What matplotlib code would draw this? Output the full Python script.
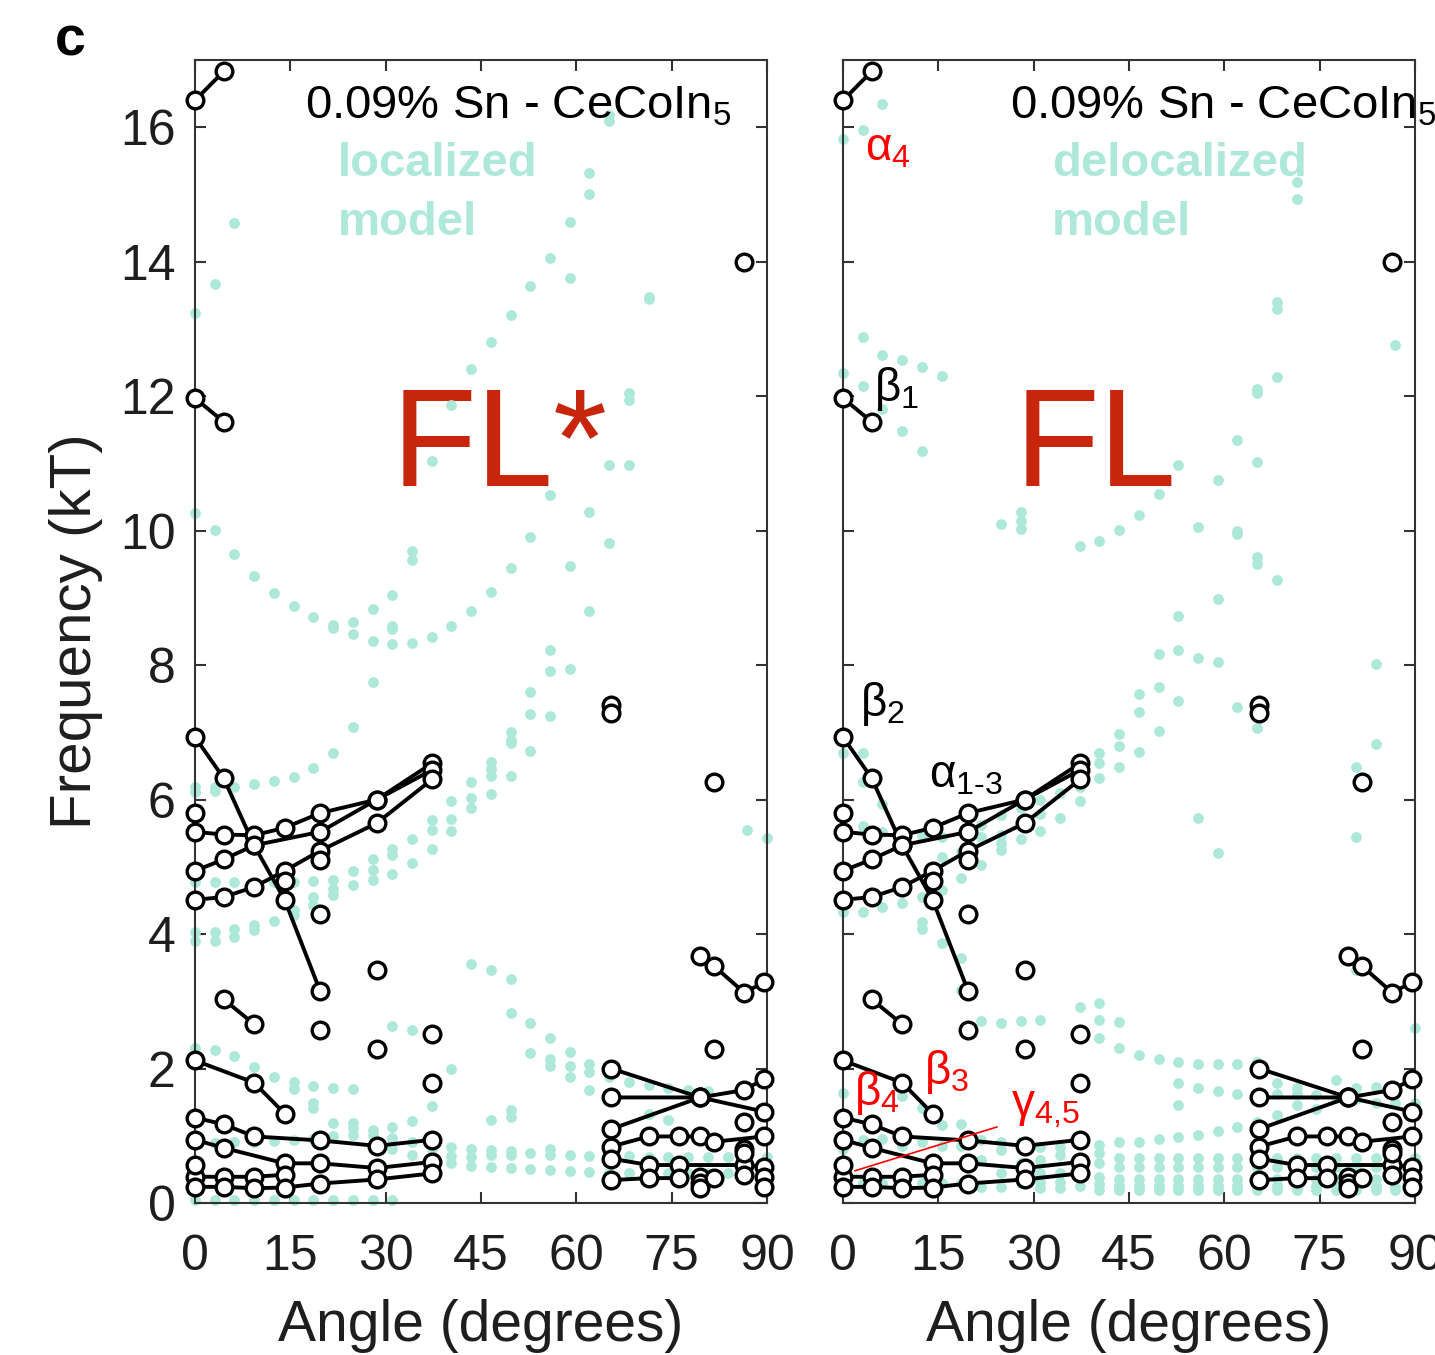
import matplotlib
matplotlib.use('Agg')
import matplotlib.pyplot as plt

plt.rcParams['font.family'] = ['Liberation Sans', 'DejaVu Sans']
plt.rcParams['mathtext.fontset'] = 'custom'
plt.rcParams['mathtext.rm'] = 'Liberation Sans'
plt.rcParams['mathtext.it'] = 'Liberation Sans:italic'
plt.rcParams['mathtext.bf'] = 'Liberation Sans:bold'

CYAN = '#ADE8D9'
FLRED = '#C8260C'
TXT = '#1e1e1e'

# ---------------- calculated (model) angles ----------------
CALC_ANGLES = [0.00, 3.10, 6.21, 9.31, 12.41, 15.52, 18.62, 21.72, 24.83, 27.93,
               31.03, 34.14, 37.24, 40.34, 43.45, 46.55, 49.66, 52.76, 55.86, 58.97,
               62.07, 65.17, 68.28, 71.38, 74.48, 77.59, 80.69, 83.79, 86.90, 90.00]

# localized model frequencies (kT) per calculated angle
loc_freqs = [
    [13.23, 10.26, 6.19, 6.12, 4.78, 4.03, 3.89, 2.30, 0.88, 0.05],
    [13.67, 10.01, 6.18, 6.13, 4.78, 4.03, 3.90, 2.28, 0.89, 0.05],
    [14.57, 9.65, 6.19, 4.78, 4.08, 3.96, 2.18, 0.90, 0.05],
    [9.33, 6.23, 4.13, 4.06, 2.02, 0.91, 0.05],
    [9.08, 6.27, 4.78, 4.19, 1.88, 0.92, 0.05],
    [8.88, 6.34, 4.78, 4.36, 4.29, 1.80, 1.69, 0.94, 0.05],
    [8.71, 6.47, 4.79, 4.55, 4.43, 1.74, 1.48, 1.41, 0.95, 0.05],
    [8.60, 8.55, 6.70, 4.81, 4.67, 4.58, 1.71, 1.19, 0.99, 0.05],
    [8.64, 8.46, 7.08, 4.94, 4.73, 1.69, 1.19, 1.11, 1.01, 0.05],
    [8.83, 8.36, 7.75, 5.11, 4.96, 4.80, 1.09, 1.01, 0.05],
    [9.05, 8.58, 8.53, 8.31, 5.26, 5.17, 4.90, 2.63, 1.13, 0.96, 0.81, 0.05],
    [9.70, 9.57, 8.33, 5.42, 5.06, 2.58, 1.22, 0.91, 0.71],
    [11.03, 8.42, 5.69, 5.55, 5.26, 1.44, 0.80, 0.60],
    [11.87, 8.58, 5.98, 5.71, 5.53, 1.99, 0.84, 0.70, 0.59],
    [12.40, 8.80, 6.26, 6.03, 5.88, 3.55, 0.81, 0.69, 0.55],
    [12.81, 9.09, 6.56, 6.46, 6.35, 6.08, 3.46, 1.23, 0.79, 0.71, 0.54],
    [13.20, 9.45, 7.01, 6.88, 6.84, 6.35, 3.33, 2.83, 1.38, 1.28, 0.78, 0.72, 0.52],
    [13.64, 9.90, 7.60, 7.28, 6.73, 2.67, 2.23, 0.75, 0.50],
    [14.06, 10.53, 8.22, 7.91, 7.25, 2.46, 2.14, 2.04, 0.81, 0.71, 0.49],
    [14.59, 13.76, 9.48, 7.94, 2.25, 2.04, 1.87, 0.71, 0.47],
    [15.32, 15.00, 10.28, 8.81, 2.07, 1.95, 1.68, 0.70, 0.46],
    [16.18, 16.10, 10.98, 9.82, 1.87, 0.69, 0.45],
    [12.04, 11.94, 10.98, 1.80, 0.70, 0.45],
    [13.48, 13.45, 1.75, 1.33, 0.69, 0.45],
    [1.71, 1.24, 0.69, 0.44],
    [1.68, 0.69, 0.44],
    [1.66, 0.69, 0.44],
    [0.69, 0.44],
    [5.55, 0.69, 0.44],
    [5.43, 0.69, 0.44],
]

# delocalized model frequencies (kT) per calculated angle
deloc_freqs = [
    [15.83, 12.34, 6.69, 4.33, 1.64, 0.80, 0.30],
    [15.96, 12.88, 12.15, 6.70, 6.26, 5.61, 4.33, 0.94, 0.30],
    [16.35, 12.61, 11.81, 5.93, 5.52, 4.40, 0.95, 0.30],
    [12.54, 11.48, 4.46, 1.59, 0.85, 0.30],
    [12.44, 11.19, 5.46, 4.55, 4.18, 4.08, 1.41, 0.90, 0.30],
    [12.30, 5.45, 5.15, 4.66, 3.87, 1.16, 0.85, 0.30],
    [5.22, 4.83, 3.64, 3.17, 1.18, 0.85, 0.30],
    [5.62, 5.45, 5.03, 2.70, 0.94, 0.64, 0.24],
    [10.10, 5.77, 5.48, 5.35, 5.25, 2.67, 0.90, 0.79, 0.44, 0.24],
    [10.28, 10.14, 10.02, 5.87, 5.42, 2.70, 0.90, 0.60, 0.30],
    [5.99, 5.79, 5.54, 2.72, 0.84, 0.64, 0.44, 0.31, 0.22],
    [6.10, 5.72, 0.84, 0.72, 0.44, 0.31, 0.22],
    [9.77, 6.19, 5.98, 2.92, 0.88, 0.60, 0.40, 0.25],
    [9.85, 6.70, 6.54, 6.32, 2.98, 2.72, 2.45, 0.86, 0.74, 0.59, 0.39, 0.29, 0.19],
    [10.01, 6.98, 6.80, 6.49, 2.69, 2.30, 0.91, 0.67, 0.54, 0.36, 0.26, 0.19],
    [10.23, 7.57, 7.30, 6.71, 2.20, 0.91, 0.67, 0.54, 0.36, 0.26, 0.19],
    [10.54, 8.17, 7.68, 7.02, 2.14, 0.95, 0.67, 0.54, 0.36, 0.26, 0.19],
    [10.98, 8.73, 8.22, 7.46, 2.09, 1.78, 1.46, 0.98, 0.67, 0.54, 0.36, 0.26, 0.19],
    [10.05, 8.11, 5.73, 2.07, 1.71, 1.01, 0.67, 0.54, 0.36, 0.26, 0.19],
    [10.76, 8.98, 8.05, 5.21, 2.07, 1.66, 1.07, 0.67, 0.54, 0.36, 0.26, 0.19],
    [11.35, 9.99, 9.95, 7.37, 2.07, 1.62, 1.13, 0.67, 0.54, 0.36, 0.26, 0.19],
    [12.11, 12.05, 11.02, 9.61, 9.50, 7.07, 2.10, 1.21, 0.67, 0.54, 0.36, 0.26, 0.19],
    [13.40, 13.30, 12.29, 9.27, 1.78, 1.62, 1.31, 0.67, 0.54, 0.36, 0.26, 0.19],
    [15.18, 14.93, 1.71, 1.62, 1.46, 0.67, 0.54, 0.36, 0.26, 0.19],
    [1.61, 1.40, 0.67, 0.54, 0.36, 0.26, 0.19],
    [1.83, 1.56, 0.67, 0.54, 0.36, 0.26, 0.19],
    [6.49, 5.44, 3.46, 1.71, 1.54, 0.67, 0.54, 0.36, 0.26, 0.19],
    [8.01, 6.82, 1.73, 1.48, 0.67, 0.54, 0.36, 0.26, 0.19],
    [12.76, 1.48, 0.67, 0.54, 0.36, 0.26, 0.19],
    [2.61, 1.48, 0.67, 0.54, 0.36, 0.26, 0.19],
]

# ---------------- experimental branches (connected) ----------------
b_alpha4_ang = [0, 4.5];                       b_alpha4_f = [16.40, 16.83]
b_beta1_ang = [0, 4.5];                        b_beta1_f = [11.97, 11.62]
b_beta2_ang = [0, 4.5, 9.3, 14.1, 19.7];       b_beta2_f = [6.93, 6.32, 5.32, 4.51, 3.15]
b_a1_ang = [0, 4.5, 9.3, 14.1, 19.7, 28.6, 37.3]; b_a1_f = [5.52, 5.48, 5.47, 5.58, 5.80, 6.00, 6.54]
b_a2_ang = [0, 4.5, 9.3, 19.7, 28.6, 37.3];    b_a2_f = [4.94, 5.11, 5.32, 5.52, 6.00, 6.44]
b_a3_ang = [0, 4.5, 9.3, 14.1, 19.7, 28.6, 37.3]; b_a3_f = [4.51, 4.55, 4.70, 4.94, 5.24, 5.65, 6.30]
b_mid_ang = [4.5, 9.3];                        b_mid_f = [3.03, 2.66]
b_beta3_ang = [0, 9.3, 14.1];                  b_beta3_f = [2.12, 1.79, 1.33]
b_beta4_ang = [0, 4.5, 9.3, 19.7, 28.6, 37.3]; b_beta4_f = [1.27, 1.17, 0.99, 0.93, 0.85, 0.94]
b_g1_ang = [0, 4.5, 14.1, 19.7, 28.6, 37.3];   b_g1_f = [0.94, 0.82, 0.59, 0.59, 0.52, 0.61]
b_g2_ang = [0, 4.5, 9.3, 14.1];                b_g2_f = [0.39, 0.39, 0.39, 0.42]
b_g3_ang = [0, 4.5, 9.3, 14.1, 19.7, 28.6, 37.3]; b_g3_f = [0.24, 0.24, 0.22, 0.23, 0.29, 0.35, 0.44]
b_h1_ang = [65.5, 79.5, 89.5];                 b_h1_f = [2.00, 1.57, 1.36]
b_h2_ang = [65.5, 79.5, 86.4, 89.5];           b_h2_f = [1.57, 1.57, 1.68, 1.84]
b_h3_ang = [65.5, 79.5];                       b_h3_f = [1.10, 1.57]
b_h4_ang = [65.5, 71.4, 76.2, 79.5, 81.6, 89.5]; b_h4_f = [0.84, 0.99, 0.99, 0.99, 0.91, 0.99]
b_h5_ang = [65.5, 71.4, 76.2, 86.4, 89.5];     b_h5_f = [0.66, 0.565, 0.565, 0.565, 0.54]
b_h6_ang = [65.5, 71.4, 76.2];                 b_h6_f = [0.34, 0.37, 0.37]
b_h7_ang = [79.5, 81.6, 86.4, 89.5];           b_h7_f = [3.68, 3.53, 3.13, 3.28]

# isolated experimental points
iso_ang = [0, 0, 14.1, 19.7, 19.7, 19.7, 28.6, 28.6, 37.3, 37.3, 65.5, 65.5, 81.6, 86.4,
           81.6, 86.4, 86.4, 86.4, 86.4, 79.5, 79.5, 79.5, 81.6, 89.5, 89.5]
iso_f = [5.80, 0.565, 4.79, 5.10, 4.30, 2.57, 3.46, 2.29, 2.52, 1.78, 7.40, 7.29, 6.26, 14.0,
         2.29, 1.21, 0.81, 0.74, 0.42, 0.39, 0.30, 0.22, 0.37, 0.39, 0.24]

branches = [(b_alpha4_ang, b_alpha4_f), (b_beta1_ang, b_beta1_f), (b_beta2_ang, b_beta2_f),
            (b_a1_ang, b_a1_f), (b_a2_ang, b_a2_f), (b_a3_ang, b_a3_f), (b_mid_ang, b_mid_f),
            (b_beta3_ang, b_beta3_f), (b_beta4_ang, b_beta4_f), (b_g1_ang, b_g1_f),
            (b_g2_ang, b_g2_f), (b_g3_ang, b_g3_f), (b_h1_ang, b_h1_f), (b_h2_ang, b_h2_f),
            (b_h3_ang, b_h3_f), (b_h4_ang, b_h4_f), (b_h5_ang, b_h5_f), (b_h6_ang, b_h6_f),
            (b_h7_ang, b_h7_f)]

X_TICKS = [0, 15, 30, 45, 60, 75, 90]
Y_TICKS = [0, 2, 4, 6, 8, 10, 12, 14, 16]

fig = plt.figure(figsize=(14.35, 13.55), dpi=100)
axL = fig.add_axes([195/1435, 152/1355, 572/1435, 1143/1355])
axR = fig.add_axes([843/1435, 152/1355, 572/1435, 1143/1355])

MS = 12
MEW = 2.4


def draw_panel(ax, model):
    for ang, fs in zip(CALC_ANGLES, model):
        ax.plot([ang]*len(fs), fs, 'o', ms=7.8, color=CYAN, mec='none',
                clip_on=False, zorder=2)
    for a, f in branches:
        ax.plot(a, f, '-', color='black', lw=2.8, clip_on=False, zorder=3)
    for a, f in branches:
        ax.plot(a, f, 'o', ms=MS, mfc='white', mec='black', mew=MEW,
                clip_on=False, zorder=4)
    ax.plot(iso_ang, iso_f, 'o', ms=MS, mfc='white', mec='black', mew=MEW,
            ls='none', clip_on=False, zorder=4)
    ax.set_xlim(0, 90)
    ax.set_ylim(0, 17)
    ax.set_xticks(X_TICKS)
    ax.set_yticks(Y_TICKS)
    ax.tick_params(direction='in', length=8, width=1.5, top=True, right=True,
                   labelsize=36, colors='#333333', labelcolor=TXT)
    ax.tick_params(axis='x', pad=22)
    ax.tick_params(axis='y', pad=14)
    for s in ax.spines.values():
        s.set_linewidth(1.5)
        s.set_color('#333333')
    ax.set_xlabel('Angle (degrees)', fontsize=41, color=TXT, labelpad=14)


draw_panel(axL, loc_freqs)
draw_panel(axR, deloc_freqs)
axR.tick_params(labelleft=False)
axL.set_ylabel('Frequency (kT)', fontsize=42, color=TXT, labelpad=12)

# ---- left panel texts ----
axL.text(17.3, 16.31, '0.09% Sn - CeCoIn$_5$', fontsize=34, color='black',
         ha='left', va='center', zorder=6)
axL.text(22.5, 15.46, 'localized', fontsize=34, color=CYAN, fontweight='bold',
         ha='left', va='center', zorder=1)
axL.text(22.5, 14.57, 'model', fontsize=34, color=CYAN, fontweight='bold',
         ha='left', va='center', zorder=1)
axL.text(30.9, 11.2, 'FL*', fontsize=100, color=FLRED, ha='left', va='center', zorder=1)

# ---- right panel texts ----
axR.text(26.3, 16.31, '0.09% Sn - CeCoIn$_5$', fontsize=34, color='black',
         ha='left', va='center', zorder=6)
axR.text(32.9, 15.46, 'delocalized', fontsize=34, color=CYAN, fontweight='bold',
         ha='left', va='center', zorder=1)
axR.text(32.9, 14.57, 'model', fontsize=34, color=CYAN, fontweight='bold',
         ha='left', va='center', zorder=1)
axR.text(27.0, 11.2, 'FL', fontsize=100, color=FLRED, ha='left', va='center', zorder=1)

axR.text(3.4, 15.69, 'α$_4$', fontsize=33, color='red', ha='left', va='center', zorder=6)
axR.text(4.9, 12.1, 'β$_1$', fontsize=33, color='black', ha='left', va='center', zorder=6)
axR.text(2.6, 7.42, 'β$_2$', fontsize=33, color='black', ha='left', va='center', zorder=6)
axR.text(13.6, 6.36, 'α$_{1\\text{-}3}$', fontsize=33, color='black', ha='left', va='center', zorder=6)
axR.text(12.8, 1.95, 'β$_3$', fontsize=33, color='red', ha='left', va='center', zorder=6)
axR.text(1.8, 1.64, 'β$_4$', fontsize=33, color='red', ha='left', va='center', zorder=6)
axR.text(26.5, 1.42, 'γ$_{4{,}5}$', fontsize=33, color='red', ha='left', va='center', zorder=6)
axR.plot([1.9, 24.2], [0.48, 1.13], '-', color='red', lw=1.2, zorder=6)

fig.text(55/1435, 1 - 42/1355, 'c', fontsize=40, fontweight='bold', color='black',
         ha='left', va='center')

fig.savefig('out.png', dpi=100)
